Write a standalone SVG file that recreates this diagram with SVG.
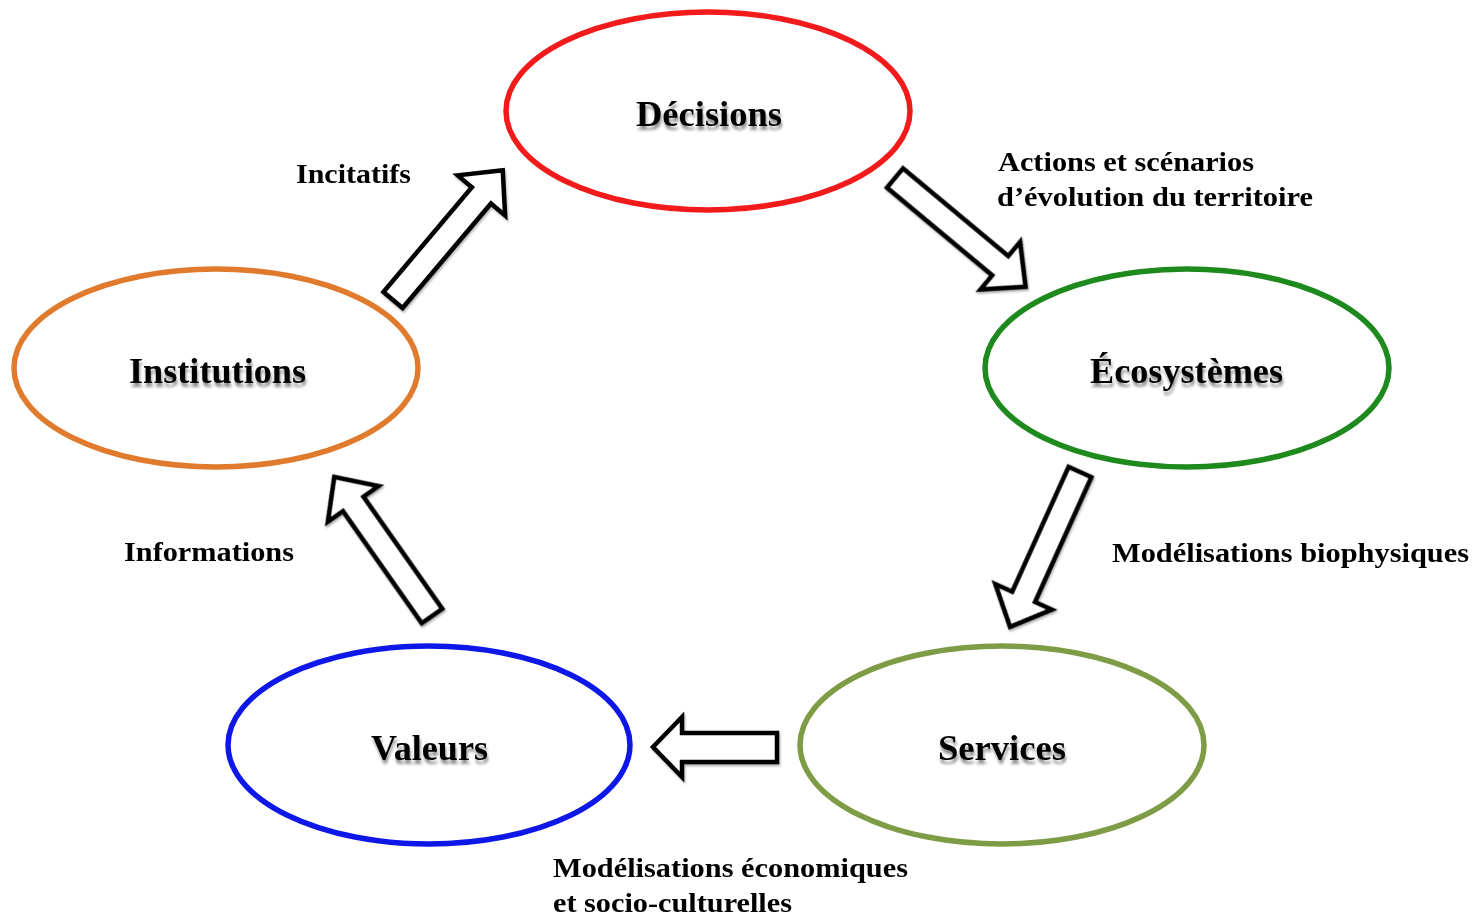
<svg xmlns="http://www.w3.org/2000/svg" width="1480" height="917" viewBox="0 0 1480 917">
<defs>
<filter id="tsh" x="-10%" y="-30%" width="120%" height="170%">
<feGaussianBlur in="SourceAlpha" stdDeviation="1.8"/>
<feOffset dx="1" dy="4" result="b"/>
<feComponentTransfer in="b" result="s"><feFuncA type="linear" slope="0.45"/></feComponentTransfer>
<feMerge><feMergeNode in="s"/><feMergeNode in="SourceGraphic"/></feMerge>
</filter>
<filter id="ash" x="-20%" y="-20%" width="140%" height="140%">
<feGaussianBlur in="SourceAlpha" stdDeviation="1.2"/>
<feOffset dx="1" dy="2" result="b"/>
<feComponentTransfer in="b" result="s"><feFuncA type="linear" slope="0.3"/></feComponentTransfer>
<feMerge><feMergeNode in="s"/><feMergeNode in="SourceGraphic"/></feMerge>
</filter>
<path id="arr" d="M0,-12.5 L137,-12.5 L137,-31 L170,0 L137,31 L137,12.5 L0,12.5 Z"/>
</defs>
<style>
.node ellipse{fill:#fff;stroke-width:5.5}
.lbl{font-family:"Liberation Serif","Times New Roman",serif;font-weight:bold;font-size:35px;fill:#000}
.el{font-family:"Liberation Serif","Times New Roman",serif;font-weight:bold;font-size:28px;fill:#000}
.conn use,.conn path{fill:#fff;stroke:#000;stroke-width:4.5;stroke-linejoin:miter}
</style>
<rect width="1480" height="917" fill="#fff"/>
<g id="connectors" class="conn" filter="url(#ash)">
<use href="#arr" transform="translate(393,300) rotate(-49.8)"/>
<use href="#arr" transform="translate(895,178) rotate(39.8)"/>
<use href="#arr" transform="translate(1080,472) rotate(114.3)"/>
<use href="#arr" transform="translate(432,616) rotate(-125.1)"/>
<path d="M777,733 L682,733 L682,717 L653,747 L682,777 L682,762 L777,762 Z"/>
</g>
<g id="edge-labels">
<text class="el" x="296" y="183" textLength="115" lengthAdjust="spacingAndGlyphs">Incitatifs</text>
<text class="el" x="998" y="171" textLength="256" lengthAdjust="spacingAndGlyphs">Actions et scénarios</text>
<text class="el" x="997" y="206" textLength="316" lengthAdjust="spacingAndGlyphs">d’évolution du territoire</text>
<text class="el" x="1112" y="562" textLength="357" lengthAdjust="spacingAndGlyphs">Modélisations biophysiques</text>
<text class="el" x="124" y="561" textLength="170" lengthAdjust="spacingAndGlyphs">Informations</text>
<text class="el" x="553" y="877" textLength="355" lengthAdjust="spacingAndGlyphs">Modélisations économiques</text>
<text class="el" x="553" y="912" textLength="239" lengthAdjust="spacingAndGlyphs">et socio-culturelles</text>
</g>
<g id="node-decisions" class="node">
<ellipse cx="708" cy="111" rx="202" ry="99" stroke="#f21a1a"/>
<text class="lbl" x="636" y="126" textLength="146" lengthAdjust="spacingAndGlyphs" filter="url(#tsh)">Décisions</text>
</g>
<g id="node-ecosystemes" class="node">
<ellipse cx="1187" cy="368" rx="202" ry="99" stroke="#1e8a1e"/>
<text class="lbl" x="1090" y="383" textLength="193" lengthAdjust="spacingAndGlyphs" filter="url(#tsh)">Écosystèmes</text>
</g>
<g id="node-institutions" class="node">
<ellipse cx="216" cy="368" rx="202" ry="99" stroke="#e07a2c"/>
<text class="lbl" x="129" y="383" textLength="177" lengthAdjust="spacingAndGlyphs" filter="url(#tsh)">Institutions</text>
</g>
<g id="node-services" class="node">
<ellipse cx="1002" cy="745" rx="202" ry="99" stroke="#7e9c46"/>
<text class="lbl" x="938" y="760" textLength="128" lengthAdjust="spacingAndGlyphs" filter="url(#tsh)">Services</text>
</g>
<g id="node-valeurs" class="node">
<ellipse cx="429" cy="745" rx="201" ry="99" stroke="#0c17e8"/>
<text class="lbl" x="371" y="760" textLength="117" lengthAdjust="spacingAndGlyphs" filter="url(#tsh)">Valeurs</text>
</g>
</svg>
